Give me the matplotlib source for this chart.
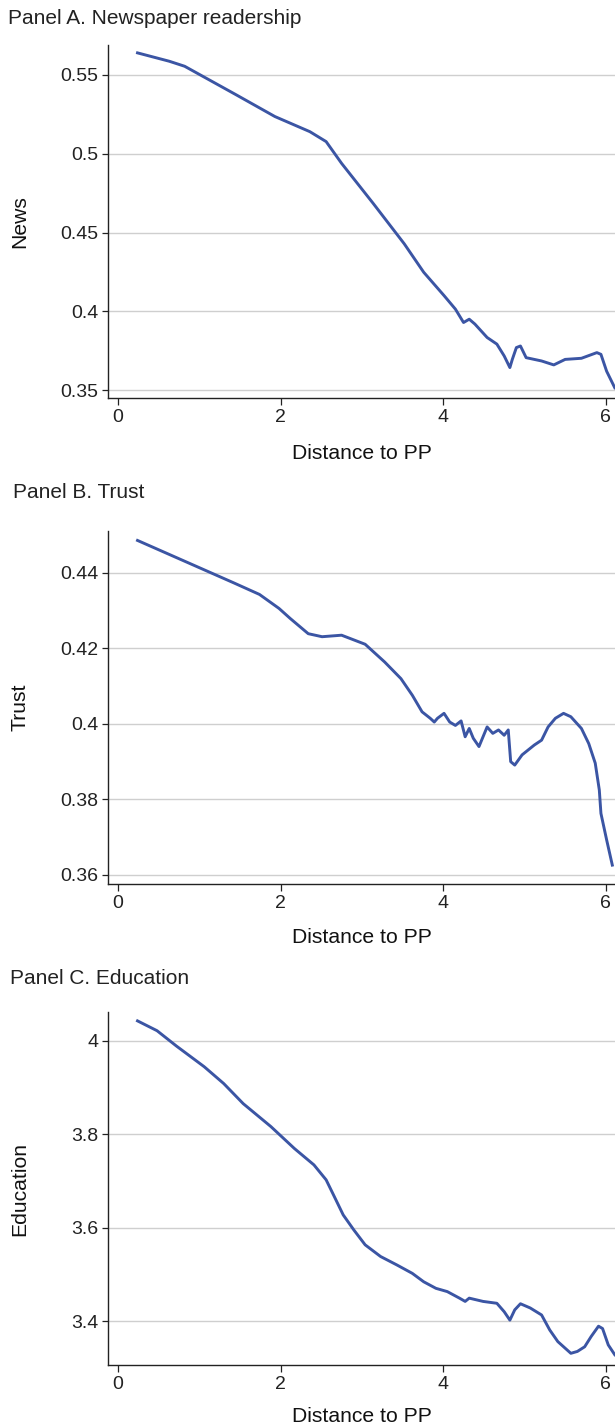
import matplotlib
matplotlib.use("Agg")
import matplotlib.pyplot as plt

plt.rcParams["font.family"] = ["Liberation Sans", "DejaVu Sans"]

LINE = "#3B55A4"
GRID = "#CFCFCF"

# Panel A: newspaper readership
news_x = [0.24, 0.63, 0.82, 1.45, 1.93, 2.36, 2.56, 2.75, 3.14, 3.52, 3.76, 4.01, 4.15,
          4.25, 4.32, 4.39, 4.54, 4.66, 4.75, 4.82, 4.85, 4.90, 4.95, 5.02, 5.21, 5.36,
          5.50, 5.70, 5.89, 5.94, 6.01, 6.11]
news_y = [0.564, 0.5587, 0.5555, 0.5375, 0.5236, 0.514, 0.5077, 0.4939, 0.4684, 0.4429,
          0.4248, 0.410, 0.4014, 0.3929, 0.395, 0.3919, 0.3834, 0.3792, 0.3717, 0.3643,
          0.3695, 0.377, 0.378, 0.3706, 0.3685, 0.366, 0.3695, 0.3702, 0.3738, 0.3727,
          0.362, 0.3515]

# Panel B: trust
trust_x = [0.24, 1.42, 1.74, 1.98, 2.12, 2.34, 2.51, 2.75, 3.04, 3.28, 3.48, 3.62, 3.74,
           3.84, 3.89, 3.93, 4.01, 4.08, 4.15, 4.22, 4.27, 4.32, 4.37, 4.44, 4.49, 4.54,
           4.61, 4.68, 4.75, 4.80, 4.83, 4.88, 4.97, 5.12, 5.21, 5.29, 5.38, 5.48, 5.57,
           5.70, 5.79, 5.87, 5.92, 5.94, 6.01, 6.08]
trust_y = [0.4486, 0.4374, 0.4343, 0.4306, 0.4279, 0.4239, 0.4231, 0.4235, 0.4211, 0.4164,
           0.412, 0.4076, 0.4032, 0.4015, 0.4005, 0.4015, 0.4028, 0.4005, 0.3996, 0.4008,
           0.3966, 0.3988, 0.3962, 0.394, 0.3966, 0.3992, 0.3975, 0.3984, 0.397, 0.3984,
           0.390, 0.3891, 0.3918, 0.3944, 0.3957, 0.3992, 0.4015, 0.4028, 0.4019, 0.3988,
           0.3948, 0.3896, 0.3825, 0.3763, 0.3693, 0.3626]

# Panel C: education
edu_x = [0.24, 0.48, 0.72, 1.06, 1.30, 1.54, 1.88, 2.17, 2.41, 2.56, 2.65, 2.77, 2.90,
         3.04, 3.23, 3.43, 3.62, 3.76, 3.91, 4.05, 4.20, 4.27, 4.32, 4.49, 4.66, 4.75,
         4.82, 4.88, 4.95, 5.07, 5.21, 5.31, 5.41, 5.57, 5.65, 5.74, 5.82, 5.91, 5.96,
         6.03, 6.11]
edu_y = [4.042, 4.021, 3.988, 3.944, 3.908, 3.865, 3.816, 3.769, 3.734, 3.702, 3.670,
         3.627, 3.595, 3.563, 3.538, 3.520, 3.502, 3.484, 3.470, 3.463, 3.449, 3.442,
         3.449, 3.442, 3.438, 3.420, 3.402, 3.424, 3.437, 3.428, 3.413, 3.381, 3.356,
         3.331, 3.335, 3.345, 3.367, 3.389, 3.384, 3.349, 3.328]

# title, ylabel, x, y, yticks, yticklabels, ylim, axes top px, title x px, title y px, xlabel gap px
panels = [
    ("Panel A. Newspaper readership", "News", news_x, news_y,
     [0.35, 0.4, 0.45, 0.5, 0.55], ["0.35", "0.4", "0.45", "0.5", "0.55"],
     (0.345, 0.569), 45, 8, 19, 46),
    ("Panel B. Trust", "Trust", trust_x, trust_y,
     [0.36, 0.38, 0.40, 0.42, 0.44], ["0.36", "0.38", "0.4", "0.42", "0.44"],
     (0.3576, 0.4511), 531, 13, 492, 44),
    ("Panel C. Education", "Education", edu_x, edu_y,
     [3.4, 3.6, 3.8, 4.0], ["3.4", "3.6", "3.8", "4"],
     (3.306, 4.061), 1012, 10, 978, 42),
]

W, H = 615, 1425
AX_L, AX_H = 108, 353
fig = plt.figure(figsize=(W / 100, H / 100), dpi=100)

for title, ylab, xs, ys, yt, ytl, ylim, top_px, tx, ty, xgap in panels:
    ax = fig.add_axes([AX_L / W, 1 - (top_px + AX_H) / H, (W - AX_L) / W, AX_H / H])
    ax.plot(xs, ys, color=LINE, lw=2.1, solid_joinstyle="round")
    ax.set_xlim(-0.123, 6.113)
    ax.set_ylim(*ylim)
    ax.set_xticks([0, 2, 4, 6])
    ax.set_yticks(yt)
    ax.set_yticklabels(ytl)
    ax.grid(axis="y", color=GRID, lw=1.0)
    ax.set_axisbelow(True)
    for s in ("top", "right"):
        ax.spines[s].set_visible(False)
    for s in ("left", "bottom"):
        ax.spines[s].set_color("#222")
        ax.spines[s].set_linewidth(1.0)
    ax.tick_params(axis="both", labelsize=14, colors="#222", direction="out", width=0.9)
    ax.tick_params(axis="x", length=5, pad=3)
    ax.tick_params(axis="y", length=4, pad=3)
    ax.set_xlabel("Distance to PP", fontsize=15.2, color="#111")
    ax.xaxis.set_label_coords((362 - AX_L) / (W - AX_L), -xgap / AX_H)
    ax.set_ylabel(ylab, fontsize=15.2, color="#111")
    ax.yaxis.set_label_coords((29 - AX_L) / (W - AX_L), 0.5)
    fig.text(tx / W, 1 - ty / H, title, fontsize=15, color="#222", ha="left", va="center")

fig.savefig("out.png", dpi=100)
